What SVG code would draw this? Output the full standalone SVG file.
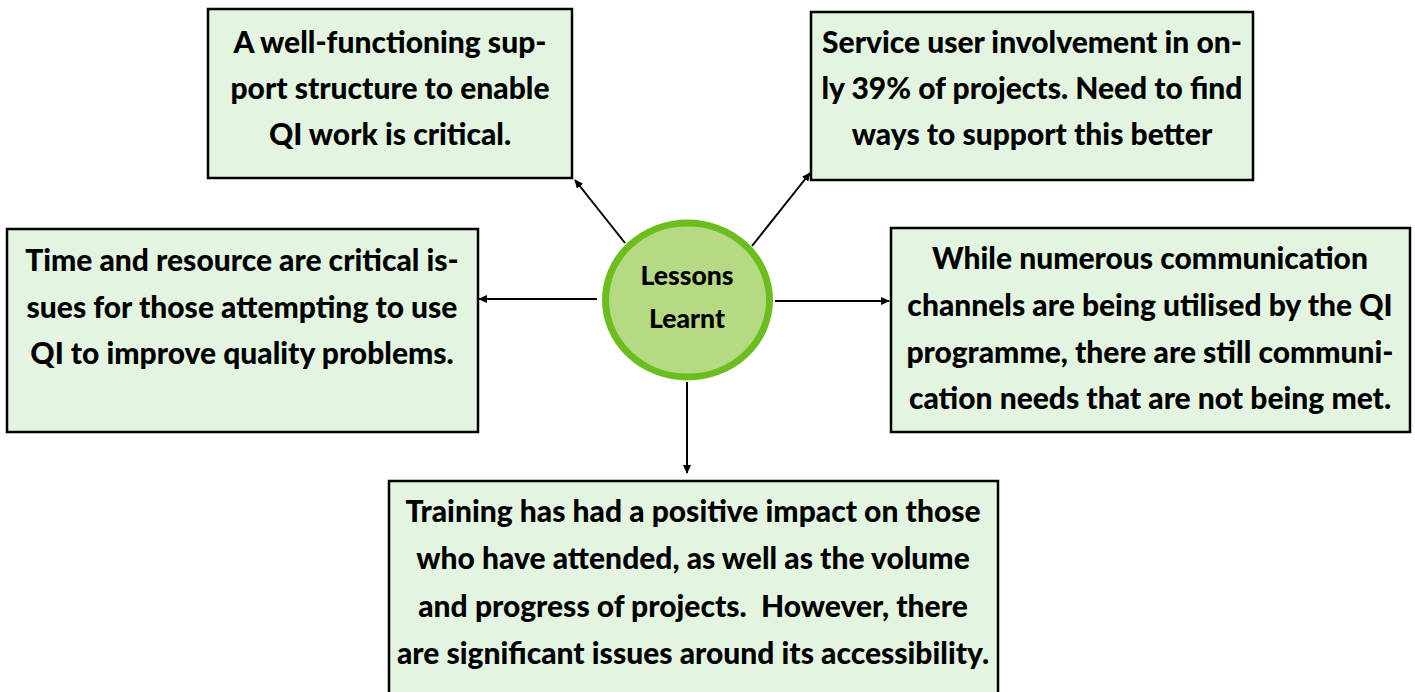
<svg xmlns="http://www.w3.org/2000/svg" width="1415" height="692" viewBox="0 0 1415 692">
<style>
.box{fill:#E3F5E1;stroke:#000;stroke-width:2.5}
.t{font-family:Lato,"Liberation Sans",sans-serif;font-weight:900;font-size:30px;fill:#000;text-anchor:middle;dominant-baseline:central}
.c{font-size:26.5px}
.ln{stroke:#000;stroke-width:2;fill:none;marker-end:url(#ah)}
</style>
<defs>
<marker id="ah" markerWidth="10" markerHeight="10" refX="8" refY="4" orient="auto" markerUnits="userSpaceOnUse">
<path d="M0,0 L9,4 L0,8 Z" fill="#000"/>
</marker>
</defs>
<g id="connectors">
<line class="ln" x1="625" y1="243" x2="575" y2="180"/>
<line class="ln" x1="752" y1="246" x2="810" y2="173"/>
<line class="ln" x1="597" y1="299" x2="479" y2="299"/>
<line class="ln" x1="775" y1="301" x2="889" y2="301"/>
<line class="ln" x1="687" y1="382" x2="687" y2="473"/>
</g>
<g id="center">
<ellipse cx="687.5" cy="300" rx="82" ry="77" fill="#B6D984" stroke="#6CBD1E" stroke-width="7"/>
<text class="t c" x="687" y="275">Lessons</text>
<text class="t c" x="687" y="318">Learnt</text>
</g>
<g id="box1">
<rect class="box" x="208" y="9" width="364" height="169"/>
<text class="t" x="390" y="41">A well-functioning sup-</text>
<text class="t" x="390" y="87">port structure to enable</text>
<text class="t" x="390" y="133">QI work is critical.</text>
</g>
<g id="box2">
<rect class="box" x="811" y="12" width="442" height="168"/>
<text class="t" x="1032" y="41">Service user involvement in on-</text>
<text class="t" x="1032" y="87">ly 39% of projects. Need to find</text>
<text class="t" x="1032" y="133">ways to support this better</text>
</g>
<g id="box3">
<rect class="box" x="7" y="229" width="471" height="203"/>
<text class="t" x="242" y="259">Time and resource are critical is-</text>
<text class="t" x="242" y="306">sues for those attempting to use</text>
<text class="t" x="242" y="352">QI to improve quality problems.</text>
</g>
<g id="box4">
<rect class="box" x="891" y="228" width="519" height="204"/>
<text class="t" x="1150" y="257">While numerous communication</text>
<text class="t" x="1150" y="304">channels are being utilised by the QI</text>
<text class="t" x="1150" y="351">programme, there are still communi-</text>
<text class="t" x="1150" y="397">cation needs that are not being met.</text>
</g>
<g id="box5">
<rect class="box" x="389" y="481" width="609" height="215"/>
<text class="t" x="693" y="510">Training has had a positive impact on those</text>
<text class="t" x="693" y="557">who have attended, as well as the volume</text>
<text class="t" x="693" y="605" style="white-space:pre">and progress of projects.  However, there</text>
<text class="t" x="693" y="652">are significant issues around its accessibility.</text>
</g>
</svg>
